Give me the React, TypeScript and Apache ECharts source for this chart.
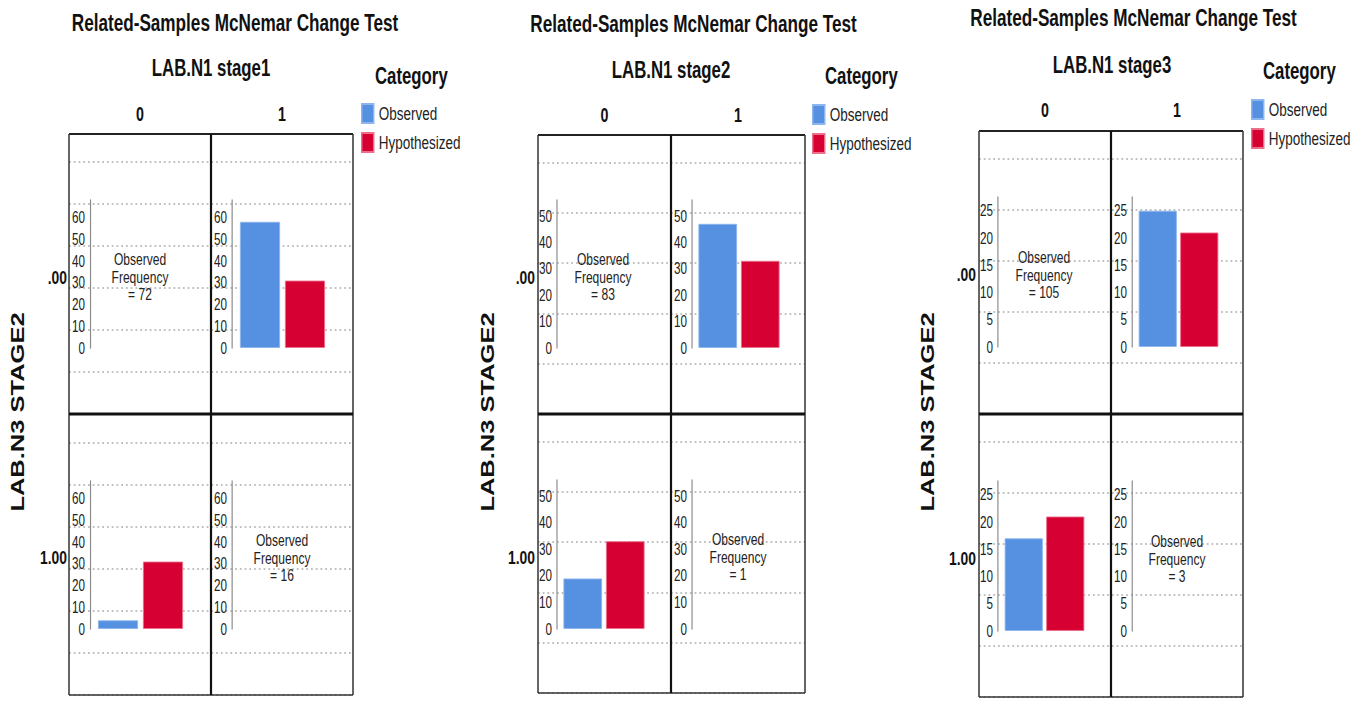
import React, { useEffect, useRef } from "react";
import * as echarts from "echarts";

// ---------- data ----------
const mainTitle = "Related-Samples McNemar Change Test";
const panelTitles = ["LAB.N1 stage1", "LAB.N1 stage2", "LAB.N1 stage3"];
const columnLabels = ["0", "1"];
const rowLabels = [".00", "1.00"];
const rowTitle = "LAB.N3 STAGE2";
const legendTitle = "Category";
const barCategories = ["Observed", "Hypothesized"];
const observedFreq00 = [72, 83, 105];
const observedFreq11 = [16, 1, 3];
const observed01 = [58, 47, 25];
const observed10 = [4, 19, 17];
const hypothesized = [31, 33, 21];
const tickStep = [10, 10, 5];
const axisMax = [68, 56, 27.5];

// ---------- layout (reference pixels; x gets divided by S) ----------
const S = 0.73;
const X = (v: number) => v / S;
const W = Math.ceil(1361 / S);
const H = 702;
const FONT = "'Liberation Sans', Arial, Helvetica, sans-serif";
const BLUE = "#5591e0";
const RED = "#d60032";

const layout = [
  {
    titleX: 235, titleY: 22, subX: 211, subY: 68, catX: 375, catY: 76, legX: 361, legY: 103, colY: 115,
    box: { l: 69, m: 211, r: 353, t: 134, d: 414, b: 695 }, rowLabelX: 67, rowLabelY: [278, 558],
    rowTitleX: 18, rowTitleY: 412, axisX: [90, 232], inner: [[200, 348], [481, 629]],
    pad: 5.5, band: 45, barW: 40, gridSp: 42, freqPos: [[140, 277], [282, 558]],
  },
  {
    titleX: 693.5, titleY: 23, subX: 671, subY: 70, catX: 825, catY: 76, legX: 812, legY: 104, colY: 116,
    box: { l: 538, m: 671, r: 805, t: 135, d: 414, b: 693 }, rowLabelX: 535, rowLabelY: [278, 558],
    rowTitleX: 488, rowTitleY: 412, axisX: [557, 692], inner: [[200, 348], [480, 629]],
    pad: 4.5, band: 42.5, barW: 38.5, gridSp: 50.3, freqPos: [[603, 277], [738, 557]],
  },
  {
    titleX: 1133.5, titleY: 17, subX: 1112, subY: 65, catX: 1263, catY: 71, legX: 1251, legY: 99, colY: 111,
    box: { l: 979, m: 1111, r: 1243, t: 131, d: 414, b: 697 }, rowLabelX: 976, rowLabelY: [275, 559],
    rowTitleX: 928, rowTitleY: 412, axisX: [998, 1132], inner: [[197, 347], [481, 631]],
    pad: 5, band: 41.5, barW: 38, gridSp: 51, freqPos: [[1044, 275], [1177, 559]],
  },
];

function txt(x: number, y: number, text: string, font: string, align = "center", extra: any = {}) {
  return {
    type: "text",
    x: X(x),
    y,
    z: 20,
    silent: true,
    ...extra,
    style: {
      text,
      font,
      fill: "#111",
      align,
      verticalAlign: "middle",
      textAlign: align,
      textVerticalAlign: "middle",
      ...(extra.style || {}),
    },
  };
}

function line(x1: number, y1: number, x2: number, y2: number, w: number, color = "#222") {
  return {
    type: "line",
    z: 15,
    silent: true,
    shape: { x1: X(x1), y1, x2: X(x2), y2 },
    style: { stroke: color, lineWidth: w },
  };
}

function buildOption() {
  const grid: any[] = [];
  const xAxis: any[] = [];
  const yAxis: any[] = [];
  const series: any[] = [];
  const graphic: any[] = [];
  const legend: any[] = [];

  layout.forEach((L, p) => {
    const b = L.box;
    // background dotted grid rows
    [[b.t, b.d], [b.d, b.b]].forEach(([t0, t1]) => {
      const gi = grid.length;
      const h = t1 - t0;
      grid.push({ left: X(b.l), top: t0, width: X(b.r - b.l), height: h, show: false });
      xAxis.push({ type: "value", gridIndex: gi, show: false, min: 0, max: 1 });
      yAxis.push({
        type: "value", gridIndex: gi, min: 0, max: h, interval: L.gridSp,
        axisLine: { show: false }, axisTick: { show: false }, axisLabel: { show: false },
        splitLine: { show: true, lineStyle: { color: "#adadad", width: 1.5, type: [2.5, 4] } },
      });
    });

    // inner charts
    for (let r = 0; r < 2; r++) {
      for (let c = 0; c < 2; c++) {
        const gi = grid.length;
        const [top, zero] = L.inner[r];
        const gl = L.axisX[c] + L.pad;
        grid.push({ left: X(gl), top, width: X(2 * L.band), height: zero - top });
        xAxis.push({ type: "category", gridIndex: gi, data: barCategories, show: false });
        const step = tickStep[p];
        yAxis.push({
          type: "value", gridIndex: gi, min: 0, max: axisMax[p], interval: step, offset: X(L.pad),
          axisLine: { show: true, lineStyle: { color: "#8a8a8a", width: 1.6 } },
          axisTick: { show: false },
          splitLine: { show: false },
          axisLabel: {
            margin: X(5), fontSize: 16, color: "#222", fontFamily: FONT,
            formatter: (v: number) => (Math.abs(v % step) < 1e-9 ? String(v) : ""),
          },
        });
        if (r !== c) {
          const obs = r === 0 ? observed01[p] : observed10[p];
          series.push({
            type: "bar", name: barCategories[0], xAxisIndex: gi, yAxisIndex: gi,
            data: [obs, "-"], barWidth: X(L.barW), barGap: "-100%", silent: true,
            itemStyle: { color: BLUE, borderColor: "#8db5ee", borderWidth: 1 },
          });
          series.push({
            type: "bar", name: barCategories[1], xAxisIndex: gi, yAxisIndex: gi,
            data: ["-", hypothesized[p]], barWidth: X(L.barW), barGap: "-100%", silent: true,
            itemStyle: { color: RED, borderColor: "#ec6f8c", borderWidth: 1 },
          });
        }
      }
    }

    // texts
    graphic.push(txt(L.titleX, L.titleY, mainTitle, `bold 23.5px ${FONT}`));
    graphic.push(txt(L.subX, L.subY, panelTitles[p], `bold 23px ${FONT}`));
    graphic.push(txt(L.catX, L.catY, legendTitle, `bold 23px ${FONT}`, "left"));
    graphic.push(txt((b.l + b.m) / 2, L.colY, columnLabels[0], `bold 19.5px ${FONT}`));
    graphic.push(txt((b.m + b.r) / 2, L.colY, columnLabels[1], `bold 19.5px ${FONT}`));
    graphic.push(txt(L.rowLabelX, L.rowLabelY[0], rowLabels[0], `bold 19px ${FONT}`, "right"));
    graphic.push(txt(L.rowLabelX, L.rowLabelY[1], rowLabels[1], `bold 19px ${FONT}`, "right"));
    graphic.push(txt(L.rowTitleX, L.rowTitleY, rowTitle, `bold 25.5px ${FONT}`, "center", { rotation: Math.PI / 2 }));
    const freqs = [observedFreq00[p], observedFreq11[p]];
    L.freqPos.forEach(([fx, fy], i) => {
      graphic.push(
        txt(fx, fy, `Observed\nFrequency\n= ${freqs[i]}`, `16.5px ${FONT}`, "center", {
          style: { lineHeight: 17.5, fill: "#222" },
        })
      );
    });

    // box lines
    graphic.push(line(b.l, b.t, b.r, b.t, 2, "#222"));
    graphic.push(line(b.l, b.b, b.r, b.b, 1.6, "#333"));
    graphic.push(line(b.l, b.t, b.l, b.b, 1.5 / S, "#333"));
    graphic.push(line(b.r, b.t, b.r, b.b, 1.5 / S, "#333"));
    graphic.push(line(b.m, b.t, b.m, b.b, 2.2 / S, "#111"));
    graphic.push(line(b.l, b.d, b.r, b.d, 2.8, "#111"));

    legend.push({
      left: X(L.legX), top: L.legY, orient: "vertical", itemWidth: X(12), itemHeight: 19, itemGap: 8,
      icon: "rect", padding: 0, selectedMode: false, data: barCategories,
      textStyle: { fontSize: 18.5, fontFamily: FONT, color: "#222", lineHeight: 19, padding: [0, 0, 0, 2] },
    });
  });

  return {
    animation: false,
    backgroundColor: "#ffffff",
    textStyle: { fontFamily: FONT },
    grid, xAxis, yAxis, series, graphic, legend,
  };
}

export default function App() {
  const ref = useRef<HTMLDivElement>(null);
  useEffect(() => {
    if (!ref.current) return;
    const chart = echarts.init(ref.current, null, { renderer: "svg", width: W, height: H });
    chart.setOption(buildOption() as any);
    return () => chart.dispose();
  }, []);
  return (
    <div style={{ position: "fixed", left: 0, top: 0, width: "1361px", height: "702px", overflow: "hidden", background: "#fff" }}>
      <div
        ref={ref}
        style={{
          position: "absolute", left: 0, top: 0, width: `${W}px`, height: `${H}px`,
          transform: `scaleX(${S})`, transformOrigin: "0 0",
        }}
      />
    </div>
  );
}
